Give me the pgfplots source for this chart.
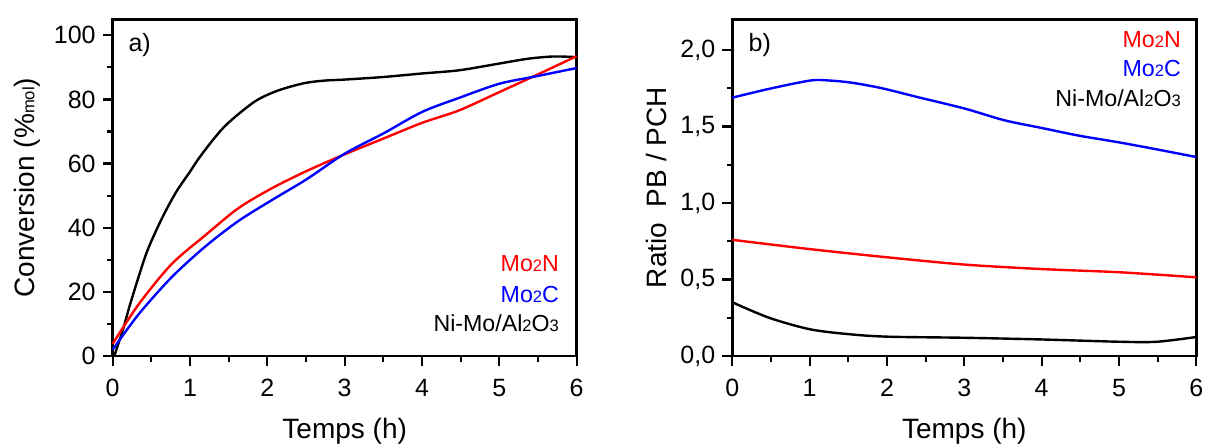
\documentclass[border=0pt]{standalone}
\usepackage{fontspec}
\setmainfont{Liberation Sans}
\usepackage{pgfplots}
\pgfplotsset{compat=1.18}

\newcommand{\sub}[1]{{\fontsize{8.3}{8}\selectfont #1}}
\definecolor{cred}{RGB}{255,0,0}
\definecolor{cblue}{RGB}{0,0,255}
\tikzset{tickline/.style={black, line width=1.1pt}}

\pgfplotsset{
  panel/.style={
    scale only axis, width=232pt, height=168.35pt,
    anchor=south west, clip=false,
    axis line style={line width=1.3pt},
    tick style={black, line width=1.1pt},
    tick align=inside, tick pos=left,
    major tick length=-5pt, minor tick length=-2.8pt,
    xticklabel shift=5pt, yticklabel shift=5pt,
    xticklabel style={yshift=-3pt},
    xlabel style={yshift=-4pt},
    minor tick num=1,
    xmin=0, xmax=6, xtick={0,1,...,6},
    tick label style={font=\fontsize{12.5}{14}\selectfont, fill=none},
    /pgf/number format/assume math mode=true,
    label style={font=\fontsize{14}{16}\selectfont},
    xlabel={Temps (h)},
    every axis plot/.append style={line width=1.2pt, smooth},
  },
}

\begin{document}
\begin{tikzpicture}
\path[use as bounding box] (0,0) rectangle (603pt,224pt);

% ---------- a) conversion ----------
\begin{axis}[panel, name=pa, at={(56.35pt,46pt)},
  ymin=0, ymax=105, ytick={0,20,...,100},
  ylabel={Conversion (\%\sub{mol})},
]
\addplot[black] coordinates {
(0.02,0) (0.13,8) (0.23,16.5) (0.42,31) (0.55,38.5) (0.68,45) (0.83,51.5) (1.0,57.5) (1.11,61.5)
(1.3,67.5) (1.49,72.6) (1.84,79.4) (2.14,82.8) (2.48,85.1) (2.75,85.9)
(3.0,86.2) (3.5,87) (4.0,88.1) (4.48,89.1) (5.0,91.2) (5.37,92.7) (5.7,93.4) (6.0,93.2)};
\addplot[cred] coordinates {
(0,3.8) (0.335,16.1) (0.76,28.6) (1.19,37.5) (1.62,46) (2.05,52.2) (2.5,57.6) (3.0,62.9) (3.5,67.8)
(4.0,72.7) (4.48,76.6) (5.0,82.3) (5.47,87.5) (6.0,93.5)};
\addplot[cblue] coordinates {
(0,2) (0.335,13) (0.76,24.5) (1.19,34) (1.62,42) (2.05,48.5) (2.5,55) (3.0,63.1) (3.5,69.4)
(4.0,76.1) (4.48,80.5) (5.0,84.9) (5.47,87.2) (6.0,89.8)};
% outward y ticks
\pgfplotsinvokeforeach{0,20,...,100}{\draw[tickline] (axis cs:0,#1) -- ++(-5pt,0);}
\pgfplotsinvokeforeach{10,30,...,90}{\draw[tickline] (axis cs:0,#1) -- ++(-2.8pt,0);}
\node[anchor=base west, font=\fontsize{12.5}{14}\selectfont] at (rel axis cs:0.019,0.903) {a)};
\node[anchor=base east, text=cred, font=\fontsize{11.6}{13}\selectfont] at (rel axis cs:0.977,0.2495) {Mo\sub{2}N};
\node[anchor=base east, text=cblue, font=\fontsize{11.6}{13}\selectfont] at (rel axis cs:0.977,0.160) {Mo\sub{2}C};
\node[anchor=base east, font=\fontsize{11.6}{13}\selectfont] at (rel axis cs:0.977,0.0713) {Ni-Mo/Al\sub{2}O\sub{3}};
\end{axis}

% ---------- b) ratio ----------
\begin{axis}[panel, name=pb, at={(366.15pt,46pt)},
  ymin=0, ymax=2.2, ytick={0,0.5,...,2.0},
  yticklabel style={/pgf/number format/.cd, fixed, fixed zerofill, precision=1, use comma},
  ylabel={Ratio~~PB / PCH},
]
\addplot[cblue] coordinates {
(0,1.688) (0.48,1.746) (1.01,1.80) (1.25,1.80) (1.54,1.786) (1.93,1.75) (2.41,1.69) (3.01,1.616)
(3.52,1.54) (4.0,1.49) (4.48,1.44) (5.01,1.395) (5.49,1.35) (6.0,1.30)};
\addplot[cred] coordinates {
(0,0.759) (1.01,0.698) (2.02,0.644) (3.01,0.597) (4.0,0.568) (5.01,0.547) (6.0,0.514)};
\addplot[black] coordinates {
(0,0.351) (0.48,0.249) (1.01,0.174) (1.54,0.141) (2.02,0.126) (3.01,0.119) (4.0,0.108)
(5.01,0.093) (5.49,0.093) (6.0,0.124)};
% outward y ticks
\pgfplotsinvokeforeach{0,0.5,1,1.5,2}{\draw[tickline] (axis cs:0,#1) -- ++(-5pt,0);}
\pgfplotsinvokeforeach{0.25,0.75,1.25,1.75}{\draw[tickline] (axis cs:0,#1) -- ++(-2.8pt,0);}
\node[anchor=base west, font=\fontsize{12.5}{14}\selectfont] at (rel axis cs:0.020,0.903) {b)};
\node[anchor=base east, text=cred, font=\fontsize{11.6}{13}\selectfont] at (rel axis cs:0.982,0.915) {Mo\sub{2}N};
\node[anchor=base east, text=cblue, font=\fontsize{11.6}{13}\selectfont] at (rel axis cs:0.982,0.829) {Mo\sub{2}C};
\node[anchor=base east, font=\fontsize{11.6}{13}\selectfont] at (rel axis cs:0.982,0.740) {Ni-Mo/Al\sub{2}O\sub{3}};
\end{axis}

% outward x ticks of both panels, drawn last so that nothing covers them
\foreach \ax in {pa,pb}{
  \foreach \i in {0,...,6}
    \draw[tickline] ([xshift=\i*38.6667pt]\ax.south west) -- ++(0,-5pt);
  \foreach \i in {0,...,5}
    \draw[tickline] ([xshift=19.3333pt+\i*38.6667pt]\ax.south west) -- ++(0,-2.8pt);
}
\end{tikzpicture}
\end{document}
